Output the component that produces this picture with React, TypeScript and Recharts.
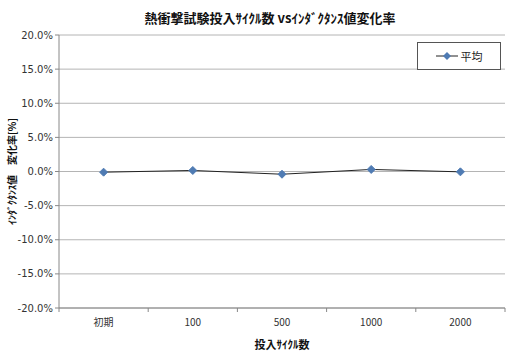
import React from "react";
import {
  LineChart, Line, XAxis, YAxis, CartesianGrid,
} from "recharts";

const cycles = ["初期", "100", "500", "1000", "2000"];
const average = [-0.1, 0.15, -0.4, 0.3, -0.05];
const yTicks = [-20, -15, -10, -5, 0, 5, 10, 15, 20];

const data = cycles.map((c, i) => ({ cycle: c, avg: average[i] }));

const JP = "'Noto Sans CJK JP', 'DejaVu Sans', sans-serif";
const MARKER = "#4f7bb3";
const BAND = 89.2;

const Diamond = (props: any) => {
  const { cx, cy } = props;
  if (cx == null || cy == null) return null;
  const r = 4;
  return (
    <path
      d={`M ${cx} ${cy - r} L ${cx + r} ${cy} L ${cx} ${cy + r} L ${cx - r} ${cy} Z`}
      fill={MARKER}
      stroke={MARKER}
    />
  );
};

// label at the band centre, tick marks at the band edges
const XTick = (props: any) => {
  const { x, y, payload, index } = props;
  return (
    <g>
      <line x1={x - BAND / 2} y1={y - 8} x2={x - BAND / 2} y2={y - 4} stroke="#888" />
      {index === cycles.length - 1 && (
        <line x1={x + BAND / 2} y1={y - 8} x2={x + BAND / 2} y2={y - 4} stroke="#888" />
      )}
      <text x={x} y={y + 10} textAnchor="middle" fontSize={10} fill="#333" fontFamily={JP}>
        {payload.value}
      </text>
    </g>
  );
};

const LegendBox = () => (
  <div
    style={{
      position: "absolute",
      left: 417,
      top: 42,
      width: 84,
      height: 28,
      border: "1px solid #555",
      background: "#fff",
      display: "flex",
      alignItems: "center",
      justifyContent: "center",
      gap: 3,
      boxSizing: "border-box",
    }}
  >
    <svg width={22} height={10}>
      <line x1={0} y1={5} x2={22} y2={5} stroke="#222" strokeWidth={1} />
      <path d="M 11 1 L 15 5 L 11 9 L 7 5 Z" fill={MARKER} />
    </svg>
    <span style={{ fontSize: 11, fontFamily: JP, color: "#222" }}>平均</span>
  </div>
);

export default function App() {
  return (
    <div style={{ position: "absolute", left: 0, top: 0, width: 512, height: 358, background: "#fff" }}>
      <LineChart
        width={512}
        height={358}
        data={data}
        margin={{ top: 35, right: 7, left: 0, bottom: 0 }}
      >
        <CartesianGrid vertical={false} stroke="#b4b4b4" />
        <XAxis
          dataKey="cycle"
          height={50}
          padding={{ left: BAND / 2, right: BAND / 2 }}
          axisLine={{ stroke: "#888" }}
          tickLine={false}
          tick={<XTick />}
          interval={0}
          label={{
            value: "投入ｻｲｸﾙ数",
            position: "insideBottom",
            offset: 9,
            style: { fontFamily: JP, fontSize: 11, fontWeight: "bold", fill: "#111" },
          }}
        />
        <YAxis
          width={59}
          domain={[-20, 20]}
          ticks={yTicks}
          tickFormatter={(v: number) => `${v.toFixed(1)}%`}
          axisLine={{ stroke: "#888" }}
          tickLine={{ stroke: "#888" }}
          tickSize={4}
          tick={{ fontSize: 10, fill: "#333", fontFamily: "'DejaVu Sans', sans-serif" }}
          label={{
            value: "ｲﾝﾀﾞｸﾀﾝｽ値　変化率[%]",
            angle: -90,
            position: "center",
            dx: -17,
            style: { textAnchor: "middle", fontFamily: JP, fontSize: 10, fontWeight: "bold", fill: "#111" },
          }}
        />
        <Line
          type="linear"
          dataKey="avg"
          name="平均"
          stroke="#222"
          strokeWidth={1}
          dot={<Diamond />}
          activeDot={false}
          isAnimationActive={false}
        />
      </LineChart>
      <div
        style={{
          position: "absolute",
          left: 0,
          top: 8,
          width: 540,
          textAlign: "center",
          fontFamily: JP,
          fontWeight: "bold",
          fontSize: 13,
          color: "#111",
        }}
      >
        熱衝撃試験投入ｻｲｸﾙ数 vsｲﾝﾀﾞｸﾀﾝｽ値変化率
      </div>
      <LegendBox />
    </div>
  );
}
